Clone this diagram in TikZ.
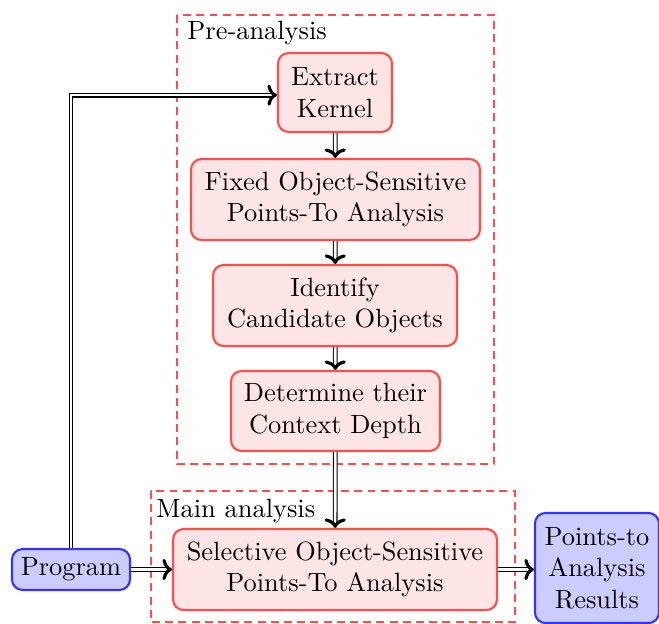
\documentclass[tikz,border=0pt]{standalone}
\usetikzlibrary{arrows.meta}
\begin{document}
\begin{tikzpicture}[x=0.3788pt,y=-0.3788pt,
  redbox/.style={draw=red!70, fill=red!10, line width=0.8pt, rounded corners=4pt, align=center, inner sep=0pt},
  bluebox/.style={draw=blue!80, fill=blue!20, line width=0.8pt, rounded corners=4pt, align=center, inner sep=0pt},
  group/.style={draw=red!70, dashed, dash pattern=on 3pt off 2pt, line width=0.8pt},
  lab/.style={anchor=north west, inner sep=1.5pt},
  dbl/.style={double, double distance=1pt, line width=0.4pt, -{To[length=3.6pt,width=8pt,line width=1.2pt]}}
]
\useasboundingbox (0,0) rectangle (659,624);
% groups
\draw[group] (177,15) rectangle (494,464);
\draw[group] (151,491) rectangle (515,622);
\node[lab] (prelab) at (183,17) {Pre-analysis};
\node[lab] (mainlab) at (152,495) {Main analysis};
% nodes
\node[redbox, minimum width=43.2pt, minimum height=29.9pt] (ek) at (335,92.5) {Extract\\Kernel};
\node[redbox, minimum width=109.5pt, minimum height=30.7pt] (fo) at (335.5,199.5) {Fixed Object-Sensitive\\Points-To Analysis};
\node[redbox, minimum width=92.4pt, minimum height=30.7pt] (ic) at (335,305.5) {Identify\\Candidate Objects};
\node[redbox, minimum width=79.2pt, minimum height=30.3pt] (dc) at (335.5,411) {Determine their\\Context Depth};
\node[redbox, minimum width=122.7pt, minimum height=30.7pt] (so) at (335,569.5) {Selective Object-Sensitive\\Points-To Analysis};
\node[bluebox, minimum width=44.7pt, minimum height=15.5pt] (pg) at (71,569.5) {Program};
\node[bluebox, minimum width=47pt, minimum height=41.7pt] (res) at (597,568) {Points-to\\Analysis\\Results};
\coordinate (ekin) at ([yshift=-1pt]ek.west);
% arrows
\draw[dbl] (pg.north) |- (ekin);
\draw[dbl] (ek) -- (fo);
\draw[dbl] (fo) -- (ic);
\draw[dbl] (ic) -- (dc);
\draw[dbl] (dc) -- (so);
\draw[dbl] (pg) -- (so);
\draw[dbl] (so.east) -- (so.east -| res.west);
\end{tikzpicture}
\end{document}
